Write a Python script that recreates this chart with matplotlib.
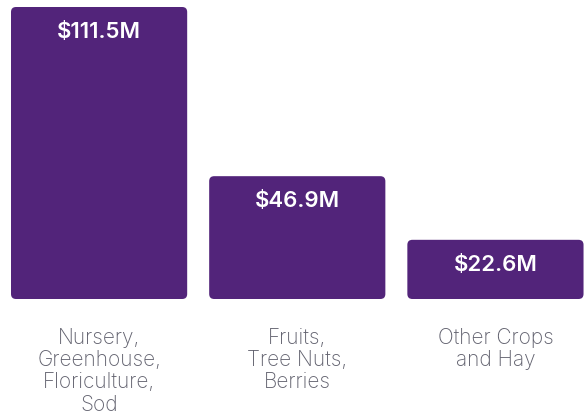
import matplotlib
matplotlib.use("Agg")
import matplotlib.pyplot as plt
from matplotlib.patches import FancyBboxPatch

plt.rcParams["font.family"] = ["Inter", "Lato", "DejaVu Sans"]

categories = ["Nursery,\nGreenhouse,\nFloriculture,\nSod", "Fruits,\nTree Nuts,\nBerries", "Other Crops\nand Hay"]
values = [111.5, 46.9, 22.6]
value_labels = ["$111.5M", "$46.9M", "$22.6M"]

BAR_COLOR = "#52247A"
LABEL_COLOR = "#62626F"

W, H = 587, 416
fig = plt.figure(figsize=(W / 100, H / 100), dpi=100)
fig.patch.set_facecolor("white")

# axes bottom sits at the bar baseline; full height maps to the tallest bar
ax = fig.add_axes([0, 117 / H, 1, 292 / H])
ax.set_xlim(-0.5, 2.462)
ax.set_ylim(0, max(values))
ax.axis("off")

bar_w = 0.889
px_per_x = W / (2.462 + 0.5)
px_per_y = 292 / max(values)
radius = 5 / px_per_x
aspect = px_per_x / px_per_y

for i, (v, lab) in enumerate(zip(values, value_labels)):
    box = FancyBboxPatch(
        (i - bar_w / 2, 0), bar_w, v,
        boxstyle=f"round,pad=0,rounding_size={radius}",
        mutation_aspect=aspect,
        fc=BAR_COLOR, ec="none", clip_on=False,
    )
    ax.add_patch(box)
    ax.annotate(lab, (i, v), xytext=(0, -25), textcoords="offset pixels",
                ha="center", va="center", color="white",
                fontsize=16, fontweight="semibold")
    ax.annotate(categories[i], (i, 0), xytext=(0, -29), textcoords="offset pixels",
                ha="center", va="top", color=LABEL_COLOR,
                fontsize=15, fontweight="light", linespacing=1.14)

fig.savefig("out.png", dpi=100, facecolor="white")
